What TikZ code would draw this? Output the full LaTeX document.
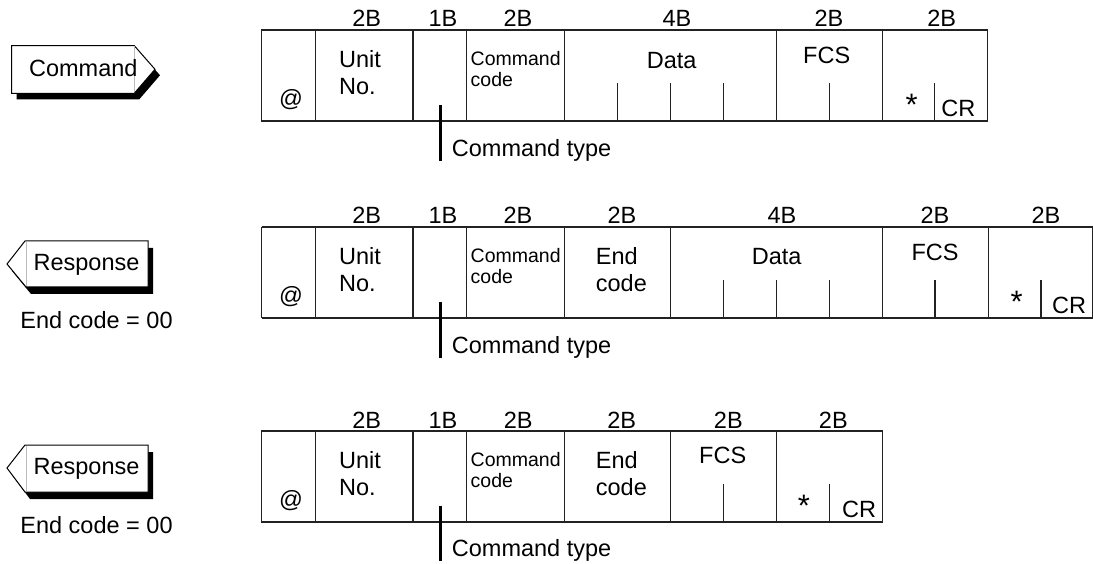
\documentclass[tikz,border=0pt]{standalone}
\usepackage{fontspec}
\setmainfont{Liberation Sans}
\usetikzlibrary{positioning}
\definecolor{frameInk}{HTML}{222222}
\definecolor{tagSeam}{HTML}{BBBBBB}

\begin{document}
\begin{tikzpicture}[
  x=1pt, y=-1pt,
  frame/.style={line width=1.3pt, draw=frameInk},
  tick/.style={line width=1.1pt, draw=frameInk},
  txt/.style={inner sep=0pt, font=\fontsize{23.5}{27}\selectfont},
  twoline/.style={txt, align=left, anchor=west},
  small/.style={inner sep=0pt, font=\fontsize{19.5}{21}\selectfont, align=left, anchor=west},
  starmark/.style={inner sep=0pt, font=\fontsize{31}{31}\selectfont},
  tag/.style={line width=1pt, draw=black, fill=white},
  shade/.style={fill=black},
  seam/.style={line width=0.5pt, draw=tagSeam},
  typebar/.style={line width=3pt, draw=black}
]
\useasboundingbox (0,0) rectangle (1093,564);

% left tags
\fill[shade] (16.7,51.7) -- (139.3,51.7) -- (160,75.3) -- (139.3,99.3) -- (16.7,99.3) -- cycle;
\draw[tag] (11.7,45.7) -- (134.3,45.7) -- (155,69.3) -- (134.3,93.3) -- (11.7,93.3) -- cycle;
\draw[seam] (134.3,46.5) -- (134.3,92.5);
\node[txt] (cmd) at (83.3,68) {Command};

\fill[shade] (30,248) -- (153,248) -- (153,294) -- (31,294) -- (12,271) -- cycle;
\draw[tag] (25,241) -- (148,241) -- (148,287) -- (26,287) -- (7,264) -- cycle;
\draw[seam] (26,242) -- (26,286);
\node[txt] (rsp1) at (86.5,265) {Response};
\node[txt] (rsp1note) at (96.5,320) {End code = 00};

\fill[shade] (30,452) -- (153,452) -- (153,499) -- (30,499) -- (12,475) -- cycle;
\draw[tag] (25,445) -- (148,445) -- (148,492) -- (25,492) -- (7,468) -- cycle;
\draw[seam] (26,446) -- (26,491);
\node[txt] (rsp2) at (86.5,469) {Response};
\node[txt] (rsp2note) at (96.5,525) {End code = 00};

% command frame
\begin{scope}[shift={(0,30)}]
\draw[frame] (261.7,0) rectangle (987.7,91);
\foreach \x in {315.3,413,466.3,564.7,776.3,882.3} \draw[frame] (\x,0) -- (\x,91);
\foreach \x in {617.3,670.3,723.7,829.3,934.7} \draw[tick] (\x,53) -- (\x,91);
\node[txt] (c1b1) at (366.7,-12) {2B};
\node[txt] (c1b2) at (443,-12) {1B};
\node[txt] (c1b3) at (518,-12) {2B};
\node[txt] (c1b4) at (677,-12) {4B};
\node[txt] (c1b5) at (829,-12) {2B};
\node[txt] (c1b6) at (941.7,-12) {2B};
\node[txt] (c1at) at (291,70) {@};
\node[twoline] (c1unit) at (339,43) {Unit\\No.};
\node[small] (c1code) at (470.5,39.5) {Command\\code};
\node[txt] (c1data) at (671.7,31) {Data};
\node[txt] (c1fcs) at (826.7,25) {FCS};
\node[starmark] (c1star) at (911.7,75) {*};
\node[txt] (c1cr) at (958.3,78) {CR};
\coordinate (c1tap) at (440.7,75);
\node[txt, anchor=west] (c1type) at (451.7,120) {Command type};
\draw[typebar] (c1tap) -- (c1tap |- c1type.south);
\end{scope}

% response frame with data
\begin{scope}[shift={(0,227)}]
\draw[frame] (261.7,0) -- (1093,0);
\draw[frame] (261.7,91) -- (1093,91);
\draw[frame] (261.7,0) -- (261.7,91);
\foreach \x in {315.3,413,466.3,564.7,670.7,882.3,988.3,1092.3} \draw[frame] (\x,0) -- (\x,91);
\foreach \x in {723.3,776.3,829.3,935,1041} \draw[tick] (\x,53) -- (\x,91);
\node[txt] (r1b1) at (366.7,-12) {2B};
\node[txt] (r1b2) at (443,-12) {1B};
\node[txt] (r1b3) at (518,-12) {2B};
\node[txt] (r1b4) at (622,-12) {2B};
\node[txt] (r1b5) at (782,-12) {4B};
\node[txt] (r1b6) at (935,-12) {2B};
\node[txt] (r1b7) at (1046,-12) {2B};
\node[txt] (r1at) at (291,70) {@};
\node[twoline] (r1unit) at (339,43) {Unit\\No.};
\node[small] (r1code) at (470.5,39.5) {Command\\code};
\node[twoline] (r1end) at (595.7,43) {End\\code};
\node[txt] (r1data) at (776.7,30) {Data};
\node[txt] (r1fcs) at (935,25) {FCS};
\node[starmark] (r1star) at (1016.7,75) {*};
\node[txt] (r1cr) at (1069,78) {CR};
\coordinate (r1tap) at (440.7,75);
\node[txt, anchor=west] (r1type) at (451.7,120) {Command type};
\draw[typebar] (r1tap) -- (r1tap |- r1type.south);
\end{scope}

% response frame without data
\begin{scope}[shift={(0,431)}]
\draw[frame] (261.7,0) rectangle (882.3,91);
\foreach \x in {315.3,413,466.3,564.7,670.7,776.3} \draw[frame] (\x,0) -- (\x,91);
\foreach \x in {723.7,829.3} \draw[tick] (\x,53) -- (\x,91);
\node[txt] (r2b1) at (366.7,-11) {2B};
\node[txt] (r2b2) at (443,-11) {1B};
\node[txt] (r2b3) at (518.3,-11) {2B};
\node[txt] (r2b4) at (621.7,-11) {2B};
\node[txt] (r2b5) at (728.3,-11) {2B};
\node[txt] (r2b6) at (833.3,-11) {2B};
\node[txt] (r2at) at (291,70) {@};
\node[twoline] (r2unit) at (339,43) {Unit\\No.};
\node[small] (r2code) at (470.5,39.5) {Command\\code};
\node[twoline] (r2end) at (595.7,43) {End\\code};
\node[txt] (r2fcs) at (722.7,24) {FCS};
\node[starmark] (r2star) at (804,75) {*};
\node[txt] (r2cr) at (859,78) {CR};
\coordinate (r2tap) at (440.7,75);
\node[txt, anchor=west] (r2type) at (451.7,119) {Command type};
\draw[typebar] (r2tap) -- (r2tap |- r2type.south);
\end{scope}
\end{tikzpicture}
\end{document}
